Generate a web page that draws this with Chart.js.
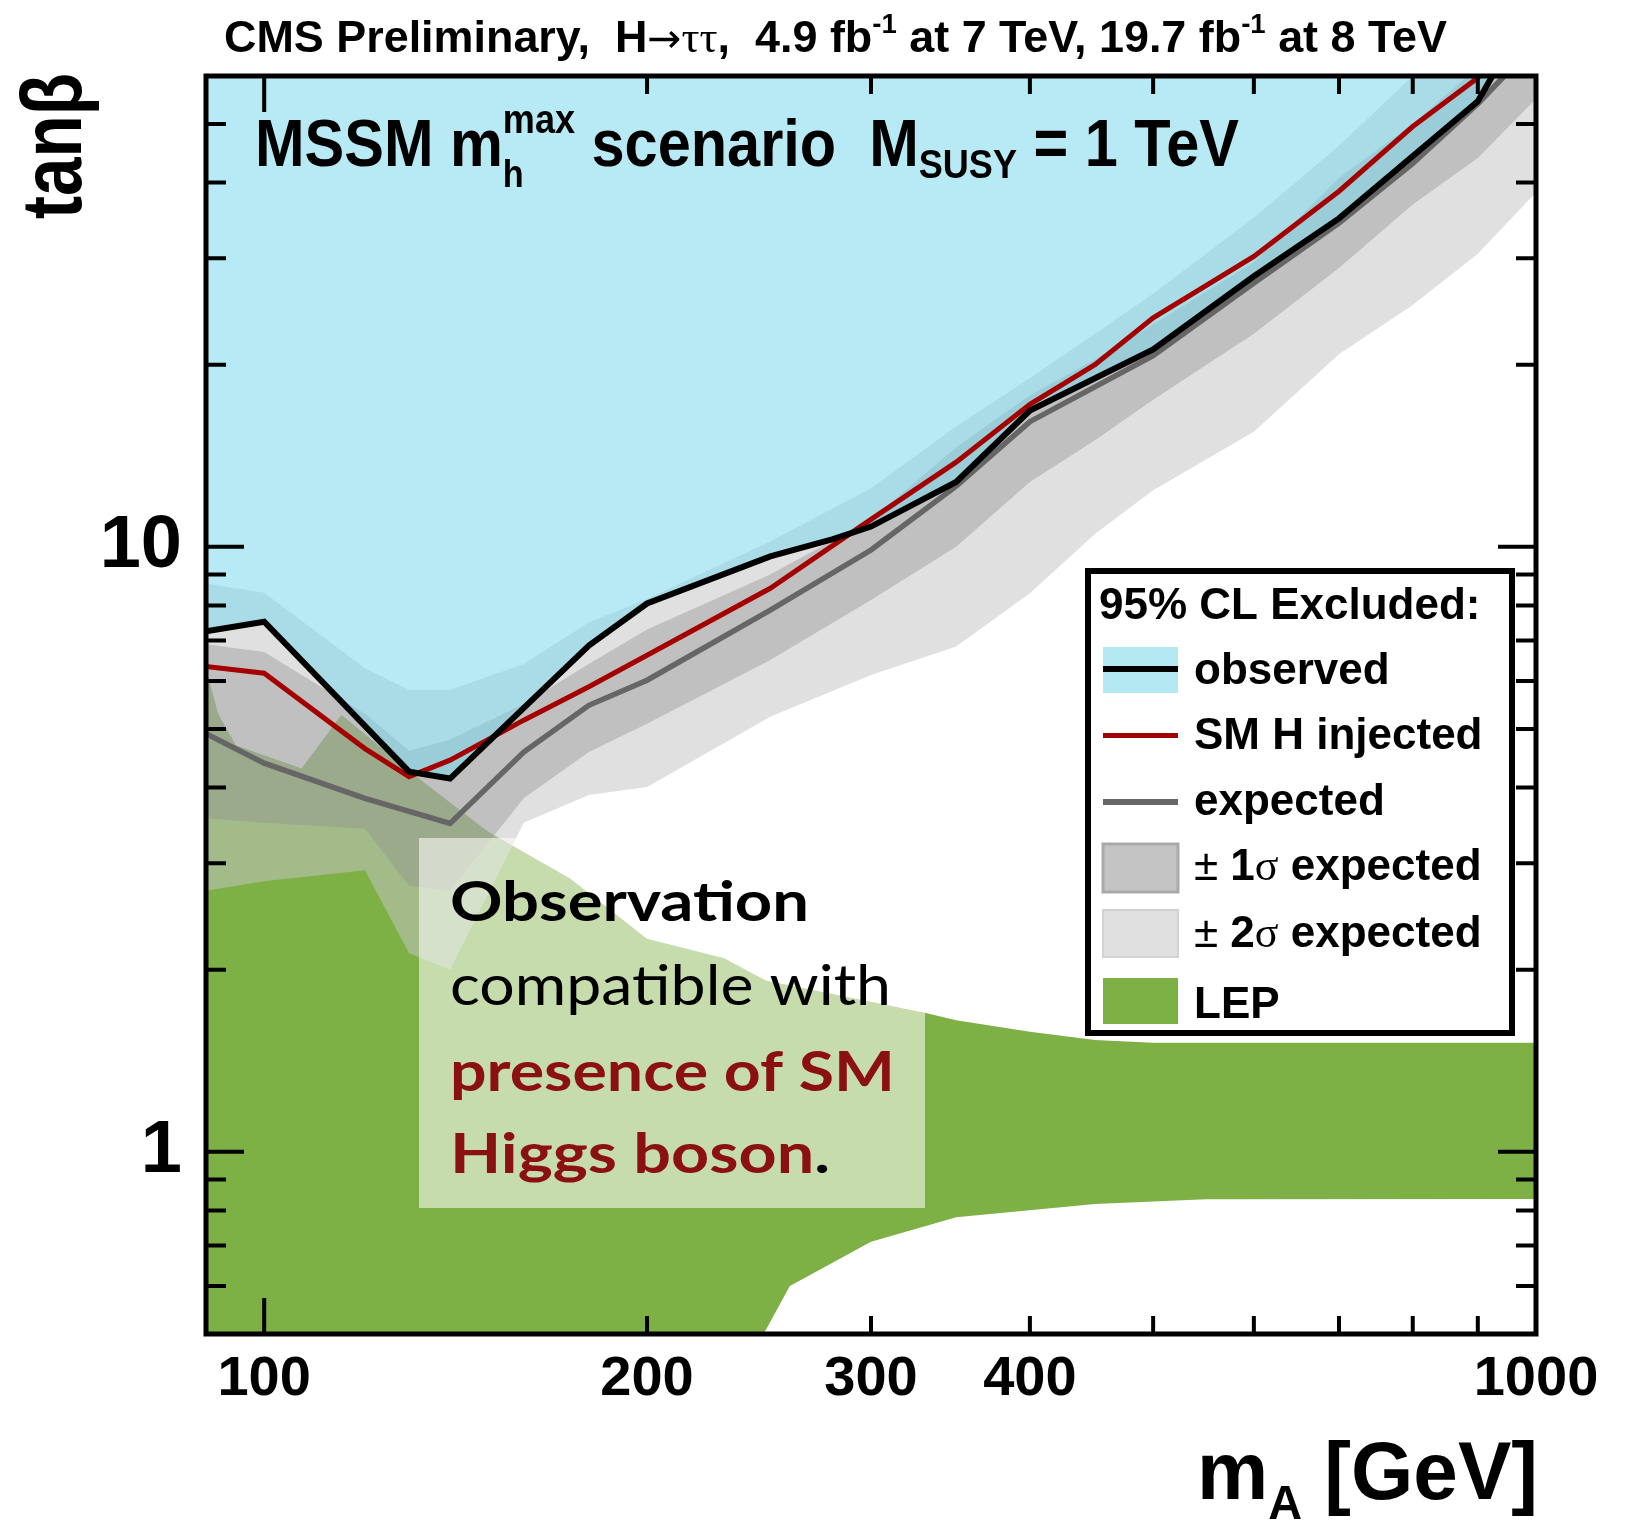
<!DOCTYPE html>
<html>
<head>
<meta charset="utf-8">
<title>MSSM mhmax tanb exclusion</title>
<script src="https://cdn.jsdelivr.net/npm/chart.js@4.4.0/dist/chart.umd.min.js"></script>
<style>
  html, body { margin: 0; padding: 0; background: #fff; }
</style>
</head>
<body>
<canvas id="c" width="1632" height="1521"></canvas>
<script>
// mass points of the expected bands (GeV)
const bandMass = [90, 100, 120, 130, 140, 160, 180, 200, 250, 300, 350, 400, 450, 500, 600, 700, 800, 900, 1000];
const band2Up = [8.7, 8.4, 6.3, 5.8, 5.8, 6.4, 7.5, 8.2, 10.2, 12.5, 15.8, 19.0, 22.5, 26.2, 35, 46, 60, 75, 90];
const band1Up = [6.9, 6.7, 5.3, 4.6, 4.8, 5.5, 6.4, 7.3, 9.0, 11.1, 14.6, 17.8, 20.4, 23.3, 29.5, 40.7, 50, 62, 75];
const band1Lo = [3.56, 3.5, 3.42, 2.75, 2.7, 3.84, 4.58, 5.1, 6.5, 8.17, 10.0, 12.8, 15.0, 17.5, 22.5, 28.9, 36.8, 43.9, 55];
const band2Lo = [2.7, 2.8, 2.92, 2.13, 2.0, 3.5, 3.89, 4.01, 5.24, 6.14, 6.84, 8.38, 10.5, 12.4, 15.5, 20.8, 25.1, 30.5, 38.5];

const expMass = [90, 100, 120, 140, 160, 180, 200, 250, 300, 350, 400, 500, 600, 700, 800, 900, 1000];
const expTanb = [4.91, 4.39, 3.84, 3.49, 4.58, 5.47, 6.02, 7.86, 9.88, 12.6, 16.1, 20.7, 27.3, 34.3, 43, 54, 68];

const injMass = [90, 100, 120, 130, 140, 160, 180, 200, 250, 300, 350, 400, 450, 500, 600, 700, 800, 900, 1000];
const injTanb = [6.34, 6.18, 4.64, 4.17, 4.44, 5.17, 5.87, 6.62, 8.54, 11.1, 13.8, 17.2, 20.0, 23.9, 30.2, 38.7, 49.5, 59.6, 75];

const obsMass = [90, 100, 130, 140, 180, 200, 250, 280, 300, 350, 400, 500, 600, 700, 900, 1000];
const obsTanb = [7.25, 7.52, 4.25, 4.14, 6.87, 8.06, 9.64, 10.3, 10.8, 12.8, 16.8, 21.2, 28.0, 34.9, 54.5, 80];

// LEP excluded region
const lepUpMass = [90, 92, 95, 107, 115, 131, 150, 174, 200, 230, 248, 330, 350, 400, 450, 500, 1000];
const lepUpTanb = [6.3, 5.3, 4.7, 4.3, 5.28, 4.21, 3.38, 2.83, 2.25, 2.09, 1.92, 1.70, 1.65, 1.58, 1.53, 1.515, 1.515];
const lepLoMass = [90, 247, 259, 300, 350, 450, 550, 1000];
const lepLoTanb = [0.5, 0.5, 0.6, 0.71, 0.78, 0.82, 0.835, 0.836];

const xLabels = [100, 200, 300, 400, 1000];
const yLabels = [1, 10];
const xMinor = [200, 300, 400, 500, 600, 700, 800, 900];
const yMinor = [0.6, 0.7, 0.8, 0.9, 2, 3, 4, 5, 6, 7, 8, 9, 20, 30, 40, 50];

const legendLabels = ['observed', 'SM H injected', 'expected', '\u00b1 1\u03c3 expected', '\u00b1 2\u03c3 expected', 'LEP'];

const SANS = '"Liberation Sans", Arial, Helvetica, sans-serif';
const GREEN = 'rgb(125,176,69)';
const RED = '#a40000';

function pts(xs, ys) {
	return xs.map((x, i) => ({ x: x, y: ys[i] }));
}

function area(label, xs, ys, color, target, order) {
	return {
		label: label, data: pts(xs, ys), borderWidth: 0, borderColor: 'rgba(0,0,0,0)',
		backgroundColor: color, fill: target, pointRadius: 0, tension: 0, order: order, clip: 0
	};
}

function curve(label, xs, ys, color, width, order) {
	return {
		label: label, data: pts(xs, ys), borderColor: color, borderWidth: width,
		fill: false, pointRadius: 0, tension: 0, order: order, clip: 0
	};
}

// text made of pieces (sub/superscripts), squeezed to a given width
function drawRich(ctx, parts, x, y, width, align) {
	let total = 0;
	const adv = parts.map(p => {
		ctx.font = p.font;
		const w = ctx.measureText(p.text).width;
		if (!p.noAdvance) total += w;
		return p.noAdvance ? 0 : w;
	});
	const sx = width ? width / total : 1;
	ctx.save();
	ctx.translate(align === 'right' ? x - total * sx : x, y);
	ctx.scale(sx, 1);
	ctx.textAlign = 'left';
	ctx.textBaseline = 'alphabetic';
	let cx = 0;
	parts.forEach((p, i) => {
		ctx.font = p.font;
		ctx.fillStyle = p.color || '#000';
		ctx.fillText(p.text, cx, p.dy || 0);
		cx += adv[i];
	});
	ctx.restore();
}

const framePlugin = {
	id: 'frame',
	afterDatasetsDraw(chart) {
		const { ctx, chartArea: a, scales } = chart;
		const xs = scales.x, ys = scales.y;
		ctx.save();
		// veil behind the note
		ctx.fillStyle = 'rgba(255,255,255,0.56)';
		ctx.fillRect(419, 838, 506, 370);

		// ticks pointing inward on all four sides
		ctx.strokeStyle = '#000';
		ctx.lineWidth = 4;
		ctx.beginPath();
		const xt = [[100, 36]].concat(xMinor.map(v => [v, 18]));
		xt.forEach(([v, len]) => {
			const px = xs.getPixelForValue(v);
			ctx.moveTo(px, a.bottom); ctx.lineTo(px, a.bottom - len);
			ctx.moveTo(px, a.top); ctx.lineTo(px, a.top + len);
		});
		const yt = yLabels.map(v => [v, 38]).concat(yMinor.map(v => [v, 20]));
		yt.forEach(([v, len]) => {
			const py = ys.getPixelForValue(v);
			ctx.moveTo(a.left, py); ctx.lineTo(a.left + len, py);
			ctx.moveTo(a.right, py); ctx.lineTo(a.right - len, py);
		});
		ctx.stroke();

		ctx.lineWidth = 5;
		ctx.strokeRect(a.left, a.top, a.right - a.left, a.bottom - a.top);
		ctx.restore();
	},
	afterDraw(chart) {
		const ctx = chart.ctx;
		const b44 = `bold 44px ${SANS}`;

		// top line
		drawRich(ctx, [
			{ text: 'CMS Preliminary,  H', font: b44 },
			{ text: '\u2192', font: '40px "DejaVu Sans", sans-serif' },
			{ text: '\u03c4\u03c4', font: '44px "Liberation Serif", serif' },
			{ text: ',  4.9 fb', font: b44 },
			{ text: '-1', font: `bold 27px ${SANS}`, dy: -19 },
			{ text: ' at 7 TeV, 19.7 fb', font: b44 },
			{ text: '-1', font: `bold 27px ${SANS}`, dy: -19 },
			{ text: ' at 8 TeV', font: b44 }
		], 224, 52, 1223);

		// scenario label
		const b64 = `bold 66px ${SANS}`;
		drawRich(ctx, [
			{ text: 'MSSM m', font: b64 },
			{ text: 'h', font: `bold 38px ${SANS}`, dy: 21, noAdvance: true },
			{ text: 'max', font: `bold 40px ${SANS}`, dy: -33 },
			{ text: ' scenario  M', font: b64 },
			{ text: 'SUSY', font: `bold 40px ${SANS}`, dy: 12 },
			{ text: ' = 1 TeV', font: b64 }
		], 255, 166, 984);

		// axis titles
		drawRich(ctx, [
			{ text: 'm', font: `bold 82px ${SANS}` },
			{ text: 'A', font: `bold 48px ${SANS}`, dy: 20 },
			{ text: ' [GeV]', font: `bold 82px ${SANS}` }
		], 1538, 1499, 341, 'right');

		ctx.save();
		ctx.translate(81, 73);
		ctx.rotate(-Math.PI / 2);
		drawRich(ctx, [{ text: 'tan\u03b2', font: `bold 86px ${SANS}` }], 0, 0, 146, 'right');
		ctx.restore();

		// note
		drawRich(ctx, [{ text: 'Observation', font: 'bold 56px Lato, sans-serif' }], 450, 921, 359);
		drawRich(ctx, [{ text: 'compatible with', font: '56px Lato, sans-serif' }], 450, 1005, 441);
		drawRich(ctx, [{ text: 'presence of SM', font: 'bold 56px Lato, sans-serif', color: '#8b1010' }], 450, 1091, 445);
		drawRich(ctx, [
			{ text: 'Higgs boson', font: 'bold 56px Lato, sans-serif', color: '#8b1010' },
			{ text: '.', font: 'bold 56px Lato, sans-serif' }
		], 450, 1173, 380);

		// legend
		ctx.save();
		ctx.fillStyle = '#fff';
		ctx.fillRect(1088, 571, 424, 462);
		ctx.lineWidth = 6;
		ctx.strokeStyle = '#000';
		ctx.strokeRect(1088, 571, 424, 462);
		ctx.fillStyle = '#000';
		ctx.font = b44;
		ctx.fillText('95% CL Excluded:', 1099, 619);

		const sx = 1103, sw = 75;
		// observed
		ctx.fillStyle = '#b4e9f3';
		ctx.fillRect(sx, 647, sw, 46);
		ctx.fillStyle = '#000';
		ctx.fillRect(sx, 666, sw, 6);
		// injected
		ctx.fillStyle = RED;
		ctx.fillRect(sx, 733, sw, 5);
		// expected
		ctx.fillStyle = '#666';
		ctx.fillRect(sx, 799, sw, 6);
		// bands
		ctx.fillStyle = '#c4c4c4';
		ctx.fillRect(sx, 844, sw, 48);
		ctx.strokeStyle = '#a9a9a9';
		ctx.lineWidth = 3;
		ctx.strokeRect(sx, 844, sw, 48);
		ctx.fillStyle = '#e0e0e0';
		ctx.fillRect(sx, 910, sw, 47);
		ctx.strokeStyle = '#d2d2d2';
		ctx.lineWidth = 2;
		ctx.strokeRect(sx, 910, sw, 47);
		ctx.fillStyle = GREEN;
		ctx.fillRect(sx, 978, sw, 46);
		ctx.restore();

		const baselines = [684, 749, 815, 880, 947, 1018];
		legendLabels.forEach((t, i) => {
			if (t.startsWith('\u00b1')) {
				drawRich(ctx, [
					{ text: '\u00b1 ', font: `44px ${SANS}` },
					{ text: t.slice(2, 3), font: b44 },
					{ text: t.slice(3, 4), font: `44px "Liberation Serif", serif` },
					{ text: t.slice(4), font: b44 }
				], 1194, baselines[i]);
			} else {
				drawRich(ctx, [{ text: t, font: b44 }], 1194, baselines[i]);
			}
		});
	}
};

const chart = new Chart(document.getElementById('c').getContext('2d'), {
	type: 'line',
	data: {
		datasets: [
			area('LEP', lepUpMass, lepUpTanb, GREEN, 1, 10),
			area('LEP lower', lepLoMass, lepLoTanb, 'rgba(0,0,0,0)', false, 9),
			area('+2 sigma', bandMass, band2Up, 'rgba(196,196,196,0.53)', 3, 8),
			area('-2 sigma', bandMass, band2Lo, 'rgba(0,0,0,0)', false, 7),
			area('+1 sigma', bandMass, band1Up, 'rgba(146,146,146,0.41)', 5, 6),
			area('-1 sigma', bandMass, band1Lo, 'rgba(0,0,0,0)', false, 5),
			area('observed region', obsMass, obsTanb, 'rgba(119,215,234,0.53)', 'end', 4),
			curve('expected', expMass, expTanb, '#666666', 5.5, 3),
			curve('SM H injected', injMass, injTanb, RED, 5, 2),
			curve('observed', obsMass, obsTanb, '#000000', 6, 1)
		]
	},
	options: {
		responsive: false,
		animation: false,
		devicePixelRatio: 1,
		events: [],
		layout: { padding: { top: 76, right: 96, bottom: 0, left: 0 } },
		plugins: {
			legend: { display: false },
			tooltip: { enabled: false }
		},
		scales: {
			x: {
				type: 'logarithmic',
				min: 90,
				max: 1000,
				grid: { display: false, drawTicks: false },
				border: { display: false },
				afterBuildTicks: s => { s.ticks = xLabels.map(v => ({ value: v })); },
				afterFit: s => { s.height = 187; s.paddingLeft = 0; s.paddingRight = 0; },
				ticks: {
					autoSkip: false, maxRotation: 0, minRotation: 0, padding: 12, color: '#000',
					font: { family: SANS, size: 56, weight: 'bold' },
					callback: v => String(v)
				}
			},
			y: {
				type: 'logarithmic',
				min: 0.5,
				max: 60,
				grid: { display: false, drawTicks: false },
				border: { display: false },
				afterBuildTicks: s => { s.ticks = yLabels.map(v => ({ value: v })); },
				afterFit: s => { s.width = 206; s.paddingTop = 0; s.paddingBottom = 0; },
				ticks: {
					autoSkip: false, padding: 24, color: '#000',
					font: { family: SANS, size: 74, weight: 'bold' },
					callback: v => String(v)
				}
			}
		}
	},
	plugins: [framePlugin]
});
</script>
</body>
</html>
